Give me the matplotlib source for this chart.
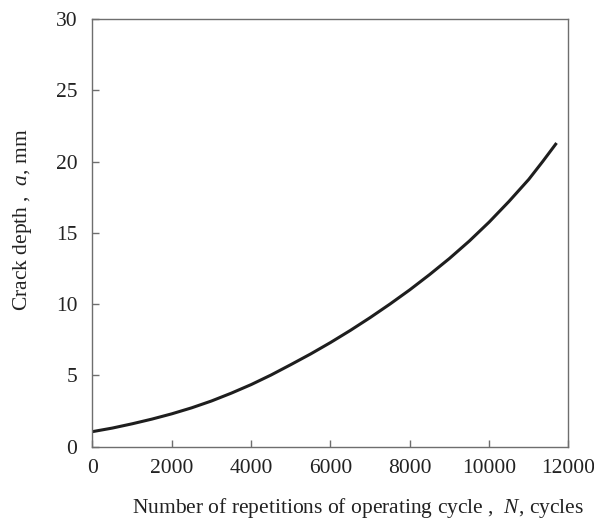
import matplotlib
matplotlib.use("Agg")
import matplotlib.pyplot as plt

# crack growth curve: number of cycles vs crack depth
cycles = [0, 500, 1000, 1500, 2000, 2500, 3000, 3500, 4000, 4500, 5000, 5500,
          6000, 6500, 7000, 7500, 8000, 8500, 9000, 9500, 10000, 10500, 11000,
          11350, 11700]
depth_mm = [1.05, 1.3, 1.6, 1.93, 2.3, 2.72, 3.2, 3.75, 4.35, 5.02, 5.75, 6.5,
            7.3, 8.15, 9.05, 10.0, 11.0, 12.07, 13.2, 14.42, 15.75, 17.2, 18.75,
            20.0, 21.3]

x_ticks = [0, 2000, 4000, 6000, 8000, 10000, 12000]
y_ticks = [0, 5, 10, 15, 20, 25, 30]

plt.rcParams['font.family'] = 'Liberation Serif'
plt.rcParams['mathtext.fontset'] = 'custom'
plt.rcParams['mathtext.rm'] = 'Liberation Serif'
plt.rcParams['mathtext.it'] = 'Liberation Serif:italic'

fig = plt.figure(figsize=(5.94, 5.19), dpi=100)
ax = fig.add_axes([0.1557, 0.1395, 0.8013, 0.8239])

ax.plot(cycles, depth_mm, color='#1e1e1e', linewidth=2.2, solid_capstyle='butt')

ax.set_xlim(0, 12000)
ax.set_ylim(0, 30)
ax.set_xticks(x_ticks)
ax.set_yticks(y_ticks)

for side in ['left', 'bottom', 'right', 'top']:
    ax.spines[side].set_color('#6e6e6e')
    ax.spines[side].set_linewidth(1.0)

ax.tick_params(axis='both', direction='in', length=5, width=1.0, color='#6e6e6e',
               labelsize=15.5, labelcolor='#222222')
ax.tick_params(axis='x', pad=9)
ax.tick_params(axis='y', pad=11)

ax.set_xlabel('Number of repetitions of operating cycle ,  $N$, cycles',
              fontsize=15.5, color='#222222', va='center')
ax.xaxis.set_label_coords(0.557, -0.143)
ax.set_ylabel('Crack depth ,  $a$, mm', fontsize=15.5, color='#222222', va='center')
ax.yaxis.set_label_coords(-0.146, 0.53)

fig.savefig('out.png', dpi=100)
